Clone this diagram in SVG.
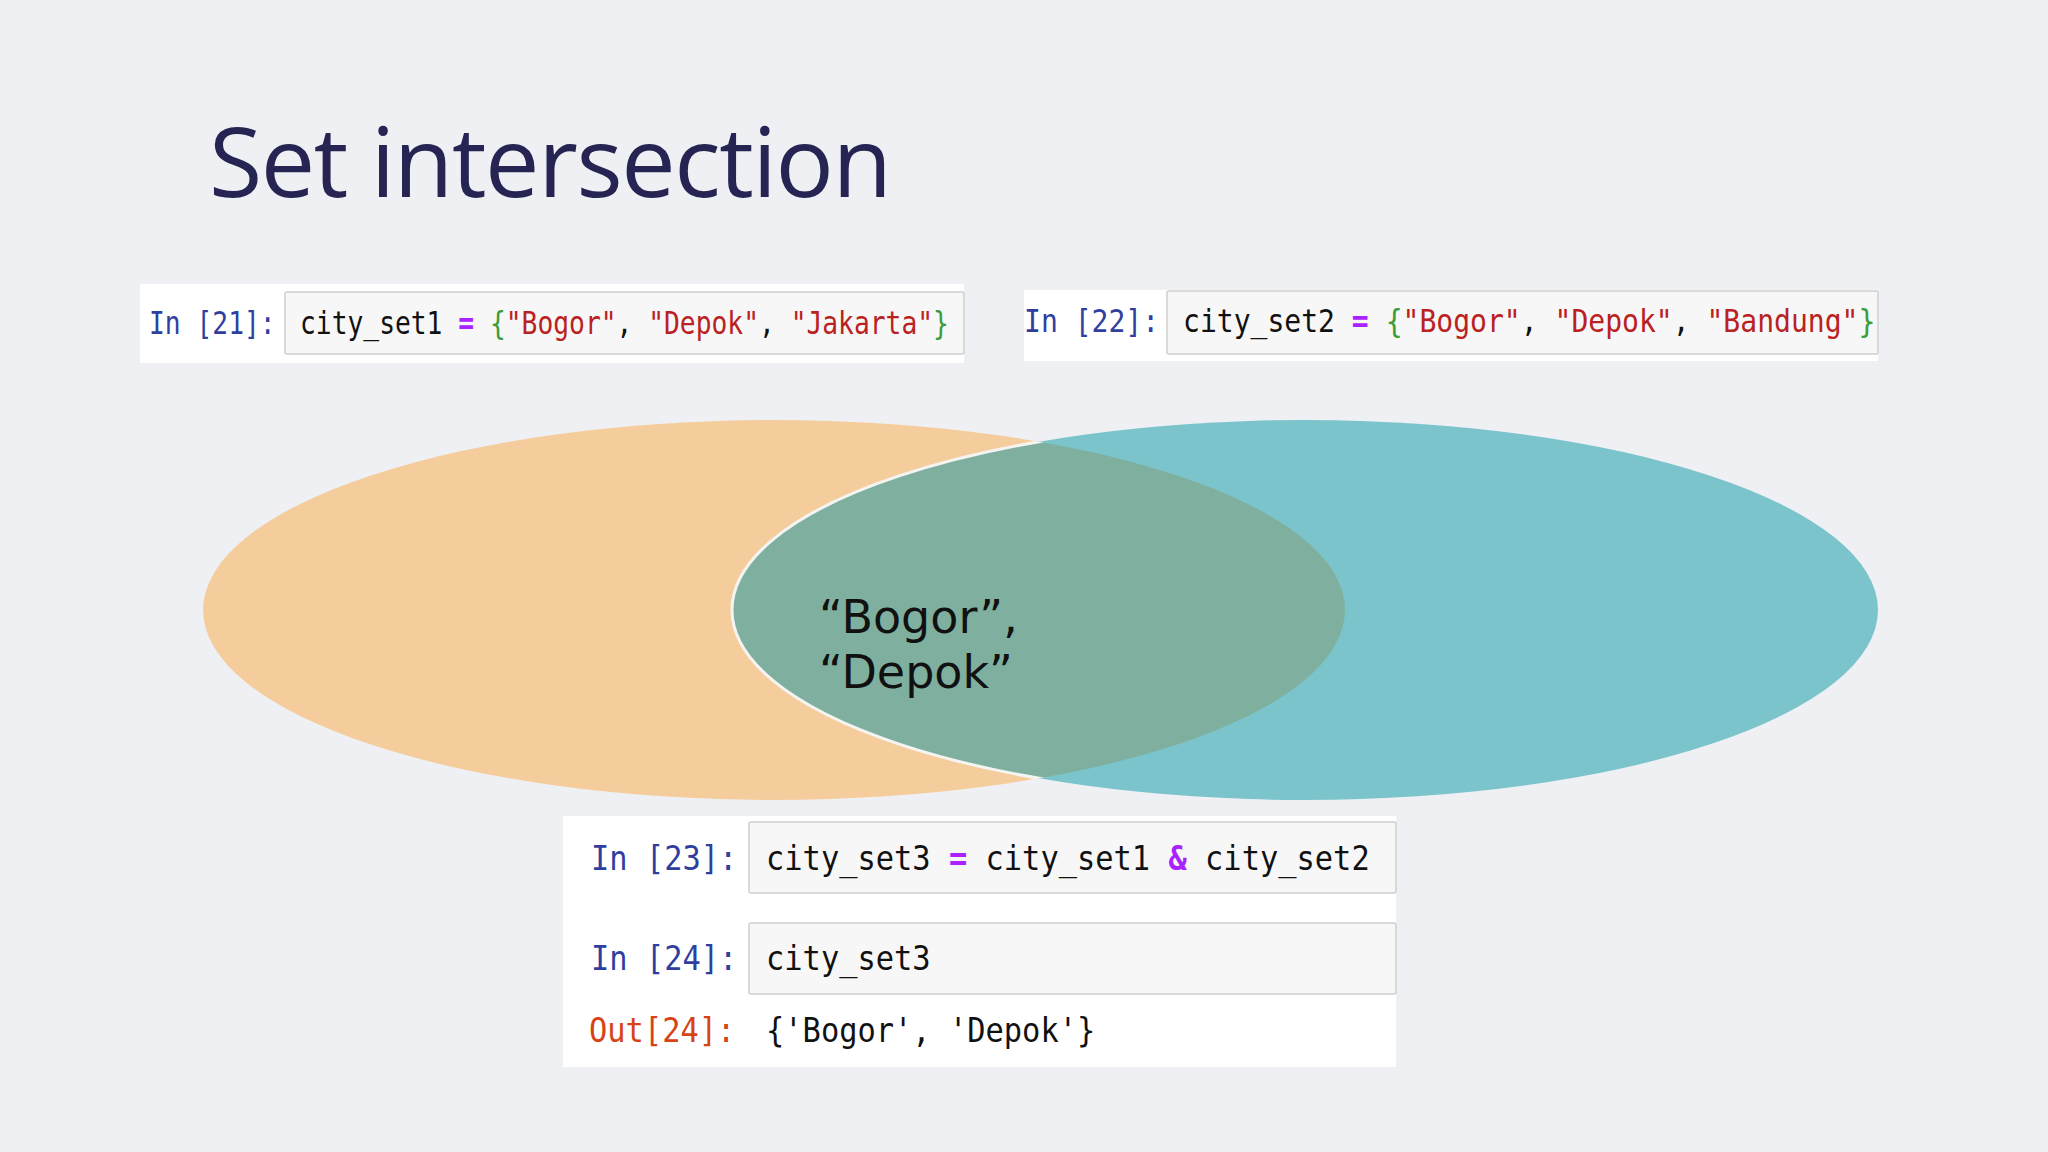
<svg xmlns="http://www.w3.org/2000/svg" width="2048" height="1152" viewBox="0 0 2048 1152">
<defs>
<style>
.code{font-family:"DejaVu Sans Mono","Liberation Mono",monospace;fill:#111111;}
.pin{fill:#303F9F;}
.pout{fill:#D84315;}
.op{fill:#AA22FF;font-weight:bold;}
.br{fill:#3a9d3a;}
.str{fill:#BA2121;}
.cell{fill:#FFFFFF;}
.inbox{fill:#F7F7F7;stroke:#CFCFCF;stroke-width:1.5;}
</style>
<clipPath id="clipOrange"><ellipse cx="774" cy="610" rx="571" ry="190"/></clipPath>
</defs>
<rect x="0" y="0" width="2048" height="1152" fill="#EEF0F4"/>
<g id="title">
<text x="209" y="197" font-family="'Open Sans','Noto Sans',sans-serif" font-size="97" fill="#252452" textLength="683" lengthAdjust="spacing">Set intersection</text>
</g>
<g id="venn">
<g id="set1"><ellipse cx="774" cy="610" rx="571" ry="190" fill="#F5CD9C"/></g>
<g id="set2"><ellipse cx="1305" cy="610" rx="573" ry="190" fill="#7BC4CB"/></g>
<g id="overlap">
<ellipse cx="1305" cy="610" rx="573" ry="190" fill="#7FB09F" clip-path="url(#clipOrange)"/>
<ellipse cx="1305" cy="610" rx="573" ry="190" fill="none" stroke="#F4F4F2" stroke-width="3" clip-path="url(#clipOrange)"/>
<text font-family="'DejaVu Sans','Noto Sans',sans-serif" font-size="46" fill="#111111"><tspan x="819" y="633">“Bogor”,</tspan><tspan x="819" y="688">“Depok”</tspan></text>
</g>
</g>
<g id="cell21">
<rect class="cell" x="140" y="284" width="824" height="79"/>
<rect class="inbox" x="285" y="292" width="679" height="62" rx="2"/>
<text class="code pin" font-size="31.5" transform="translate(149 334) scale(0.835 1)">In [21]:</text>
<text class="code" font-size="31.5" transform="translate(300 334) scale(0.835 1)">city_set1 <tspan class="op">=</tspan> <tspan class="br">{</tspan><tspan class="str">"Bogor"</tspan>, <tspan class="str">"Depok"</tspan>, <tspan class="str">"Jakarta"</tspan><tspan class="br">}</tspan></text>
</g>
<g id="cell22">
<rect class="cell" x="1024" y="290" width="854" height="71"/>
<rect class="inbox" x="1167" y="291" width="711" height="63" rx="2"/>
<text class="code pin" font-size="32" transform="translate(1024 332) scale(0.877 1)">In [22]:</text>
<text class="code" font-size="32" transform="translate(1183 332) scale(0.877 1)">city_set2 <tspan class="op">=</tspan> <tspan class="br">{</tspan><tspan class="str">"Bogor"</tspan>, <tspan class="str">"Depok"</tspan>, <tspan class="str">"Bandung"</tspan><tspan class="br">}</tspan></text>
</g>
<g id="cell23-24">
<rect class="cell" x="563" y="816" width="833" height="251"/>
<rect class="inbox" x="749" y="822" width="647" height="71" rx="2"/>
<rect class="inbox" x="749" y="923" width="647" height="71" rx="2"/>
<text class="code pin" font-size="34" transform="translate(591 870) scale(0.894 1)">In [23]:</text>
<text class="code" font-size="34" transform="translate(766 870) scale(0.894 1)">city_set3 <tspan class="op">=</tspan> city_set1 <tspan class="op">&amp;</tspan> city_set2</text>
<text class="code pin" font-size="34" transform="translate(591 970) scale(0.894 1)">In [24]:</text>
<text class="code" font-size="34" transform="translate(766 970) scale(0.894 1)">city_set3</text>
<text class="code pout" font-size="34" transform="translate(589 1042) scale(0.894 1)">Out[24]:</text>
<text class="code" font-size="34" transform="translate(766 1042) scale(0.894 1)">{'Bogor', 'Depok'}</text>
</g>
</svg>
